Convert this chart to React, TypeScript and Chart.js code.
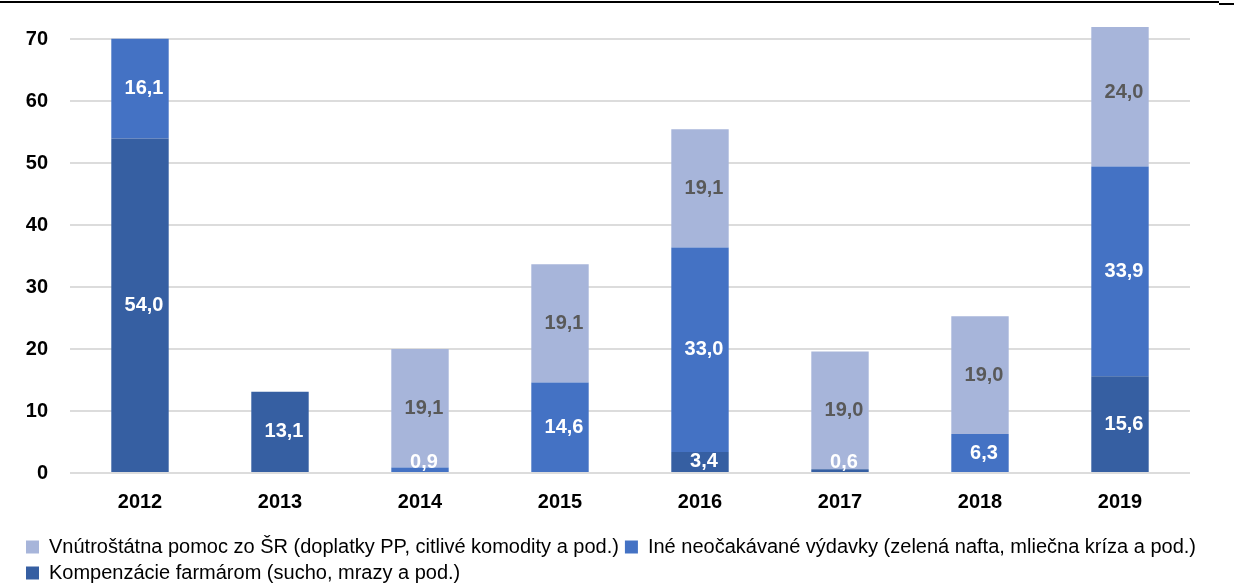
import { useEffect, useRef } from 'react';
import { Chart, registerables } from 'chart.js';

Chart.register(...registerables);

const categories = ['2012', '2013', '2014', '2015', '2016', '2017', '2018', '2019'];
const kompenzacie = [54.0, 13.1, 0, 0, 3.4, 0.6, 0, 15.6];
const ine = [16.1, 0, 0.9, 14.6, 33.0, 0, 6.3, 33.9];
const vnutrostatna = [0, 0, 19.1, 19.1, 19.1, 19.0, 19.0, 24.0];
const yTickValues = [0, 10, 20, 30, 40, 50, 60, 70];

const seriesNames = [
  'Kompenzácie farmárom (sucho, mrazy a pod.)',
  'Iné neočakávané výdavky (zelená nafta, mliečna kríza a pod.)',
  'Vnútroštátna pomoc zo ŠR (doplatky PP, citlivé komodity a pod.)',
];

const FONT = "'Liberation Sans', Arial, sans-serif";

const labelColors = ['#ffffff', '#ffffff', '#595959'];

const dataLabelPlugin = {
  id: 'segLabels',
  afterDatasetsDraw(chart: any) {
    const ctx = chart.ctx;
    ctx.save();
    ctx.font = `bold 20px ${FONT}`;
    ctx.textAlign = 'center';
    ctx.textBaseline = 'middle';
    chart.data.datasets.forEach((ds: any, di: number) => {
      const meta = chart.getDatasetMeta(di);
      meta.data.forEach((el: any, i: number) => {
        const v = ds.data[i];
        if (!v || v <= 0) return;
        const bottom = Math.max(el.y, el.base);
        const top = Math.min(el.y, el.base);
        let cy = (top + bottom) / 2;
        if (cy > bottom - 10) cy = bottom - 10;
        ctx.fillStyle = labelColors[di];
        ctx.fillText(v.toFixed(1).replace('.', ','), el.x + 4, cy);
      });
    });
    ctx.restore();
  },
};

export default function App() {
  const ref = useRef<HTMLCanvasElement | null>(null);

  useEffect(() => {
    if (!ref.current) return;
    Chart.defaults.font.family = FONT;
    const chart = new Chart(ref.current, {
      type: 'bar',
      data: {
        labels: categories,
        datasets: [
          { label: seriesNames[0], data: kompenzacie, backgroundColor: '#365FA2' },
          { label: seriesNames[1], data: ine, backgroundColor: '#4472C4' },
          { label: seriesNames[2], data: vnutrostatna, backgroundColor: '#A7B5DA' },
        ],
      },
      options: {
        responsive: false,
        animation: false,
        datasets: {
          bar: { categoryPercentage: 1, barPercentage: 0.41 },
        },
        layout: { padding: { left: 20, right: 0, top: 27, bottom: 0 } },
        plugins: {
          tooltip: { enabled: false },
          legend: {
            position: 'bottom',
            align: 'start',
            reverse: true,
            labels: {
              boxWidth: 13,
              boxHeight: 13,
              padding: 6,
              color: '#000000',
              font: { size: 20, family: FONT },
            },
          },
        },
        scales: {
          x: {
            stacked: true,
            grid: { display: false },
            border: { display: false },
            ticks: {
              color: '#000000',
              padding: 9,
              font: { size: 20, weight: 'bold', family: FONT },
            },
            afterFit: (s: any) => {
              s.height = 58;
              s.paddingLeft = 0;
              s.paddingRight = 0;
            },
          },
          y: {
            stacked: true,
            min: 0,
            max: 72,
            border: { display: false },
            grid: { color: '#dcdcdc', lineWidth: 2, drawTicks: false },
            ticks: {
              padding: 22,
              color: '#000000',
              font: { size: 20, weight: 'bold', family: FONT },
            },
            afterBuildTicks: (s: any) => {
              s.ticks = yTickValues.map((v) => ({ value: v }));
            },
            afterFit: (s: any) => {
              s.width = 50;
              s.paddingTop = 0;
              s.paddingBottom = 0;
            },
          },
          yR: {
            position: 'right',
            display: true,
            grid: { display: false },
            border: { display: false },
            ticks: { display: false },
            afterFit: (s: any) => {
              s.width = 44;
              s.paddingTop = 0;
              s.paddingBottom = 0;
            },
          },
        },
      },
      plugins: [dataLabelPlugin],
    } as any);
    return () => chart.destroy();
  }, []);

  return (
    <div
      style={{
        position: 'fixed',
        left: 0,
        top: 0,
        width: 1234,
        height: 585,
        overflow: 'hidden',
        background: '#ffffff',
      }}
    >
      <div style={{ position: 'absolute', left: 0, top: 1, width: 1219, height: 2, background: '#000' }} />
      <div style={{ position: 'absolute', left: 1219, top: 3, width: 15, height: 2, background: '#000' }} />
      <canvas ref={ref} width={1234} height={593} style={{ display: 'block' }} />
    </div>
  );
}
